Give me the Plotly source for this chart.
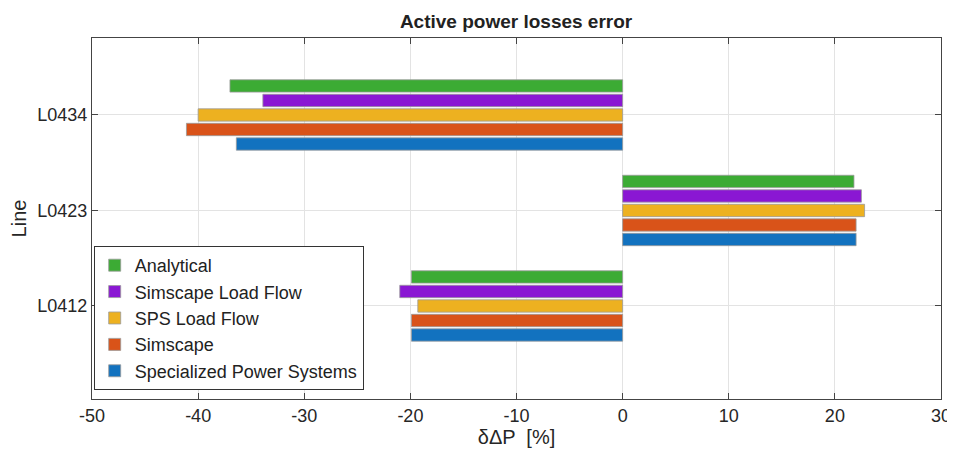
import plotly.graph_objects as go

lines = ["L0412", "L0423", "L0434"]
series_names = ["Analytical", "Simscape Load Flow", "SPS Load Flow", "Simscape", "Specialized Power Systems"]
analytical = [-19.9, 21.8, -37.0]
simscape_lf = [-21.0, 22.5, -33.9]
sps_lf = [-19.3, 22.8, -40.0]
simscape = [-19.9, 22.0, -41.1]
sps = [-19.9, 22.0, -36.4]
colors = ["#3CAB34", "#8A17D3", "#EDB120", "#D95319", "#1272BF"]
x_ticks = [-50, -40, -30, -20, -10, 0, 10, 20, 30]
x_tick_text = ["-50", "-40", "-30", "-20", "-10", "0", "10", "20", "30"]

values = [analytical, simscape_lf, sps_lf, simscape, sps]
font_family = "Liberation Sans, Arial"

fig = go.Figure()
# add bottom-most bar first so Analytical sits on top of each group
for name, vals, col in reversed(list(zip(series_names, values, colors))):
    fig.add_trace(go.Bar(
        y=lines, x=vals, name=name, orientation="h",
        marker=dict(color=col, line=dict(color="#9a9a9a", width=0.8)),
    ))

fig.update_layout(
    width=955, height=454,
    paper_bgcolor="white", plot_bgcolor="white",
    margin=dict(l=84, r=22, t=30, b=63),
    barmode="group", bargap=0.24, bargroupgap=0.15,
    title=dict(text="<b>Active power losses error</b>", x=0.532, xanchor="center",
               y=0.986, yanchor="top", font=dict(family=font_family, size=19, color="#222")),
    font=dict(family=font_family, size=17, color="#262626"),
    xaxis=dict(range=[-50, 30], tickvals=x_ticks, ticktext=x_tick_text,
               ticks="inside", ticklen=6, automargin=False,
               tickcolor="#444", showgrid=True, gridcolor="#e3e3e3", gridwidth=1,
               showline=True, linecolor="#444", linewidth=1.2, mirror="ticks",
               zeroline=False, title=dict(text="δΔP  [%]", font=dict(size=20), standoff=4),
               tickfont=dict(size=18)),
    yaxis=dict(type="category", categoryorder="array", categoryarray=lines,
               range=[-0.974, 2.806], ticks="inside", ticklen=6, tickcolor="#444",
               automargin=False,
               showgrid=True, gridcolor="#e3e3e3", showline=True, linecolor="#444",
               linewidth=1.2, mirror="ticks", zeroline=False,
               title=dict(text="Line", font=dict(size=20), standoff=12),
               tickfont=dict(size=18)),
    legend=dict(x=0.002, y=0.025, xanchor="left", yanchor="bottom",
                traceorder="reversed",
                bgcolor="white", bordercolor="#333", borderwidth=1,
                font=dict(size=18, color="#222"), itemwidth=30),
)

fig.write_html("out.html")
